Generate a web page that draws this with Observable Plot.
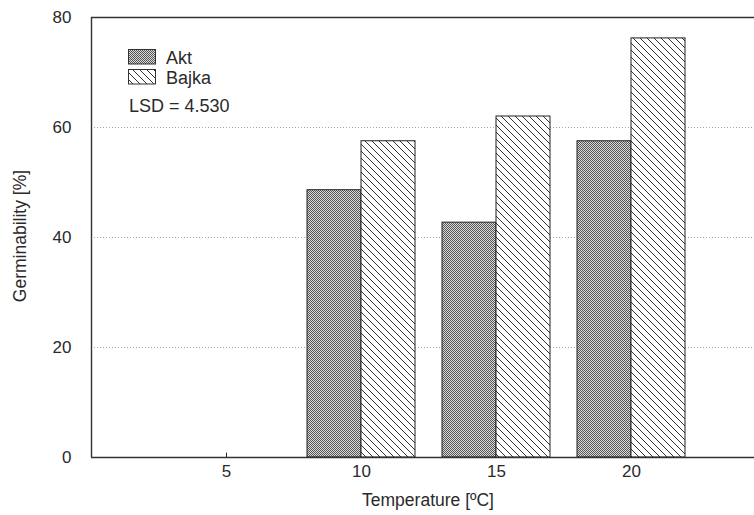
<!DOCTYPE html>
<html>
<head>
<meta charset="utf-8">
<script src="https://cdn.jsdelivr.net/npm/d3@7"></script>
<script src="https://cdn.jsdelivr.net/npm/@observablehq/plot@0.6"></script>
<style>
  html, body { margin: 0; padding: 0; background: #fff; overflow: hidden; }
  #chart svg { display: block; }
</style>
</head>
<body>
<div id="chart"></div>
<script>
// ---- data ----
const temperatures = [10, 15, 20];
const akt = [48.6, 42.7, 57.5];
const bajka = [57.5, 62.0, 76.2];
const xTicks = [5, 10, 15, 20];
const yTicks = [0, 20, 40, 60, 80];
const gridTicks = [20, 40, 60];
const seriesNames = ["Akt", "Bajka"];
const lsdLabel = "LSD = 4.530";
const halfWidth = 2; // each bar spans 2 °C units

const rows = [];
temperatures.forEach((t, i) => {
  rows.push({series: "Akt", t, x1: t - halfWidth, x2: t, v: akt[i]});
  rows.push({series: "Bajka", t, x1: t, x2: t + halfWidth, v: bajka[i]});
});

const font = "'Liberation Sans', Arial, sans-serif";
const ink = "#2a2a2a";

const plot = Plot.plot({
  width: 754,
  height: 515,
  marginLeft: 91,
  marginRight: -12,
  marginTop: 17,
  marginBottom: 58,
  style: {fontFamily: font, fontSize: "17px", color: ink, background: "#fff"},
  x: {domain: [0, 25], ticks: xTicks, tickSize: 0, tickPadding: 7, label: null},
  y: {domain: [0, 80], ticks: yTicks, tickSize: 0, tickPadding: 20, label: null},
  marks: [
    Plot.gridY(gridTicks, {stroke: "#aaa", strokeOpacity: 1, strokeDasharray: "1,2"}),
    Plot.ruleX(xTicks, {y1: 0, y2: 0.8, stroke: ink, strokeWidth: 1}),
    Plot.rect(rows.filter(d => d.series === "Akt"), {x1: "x1", x2: "x2", y1: 0, y2: "v", fill: "url(#patAkt)", stroke: "#222", strokeWidth: 1}),
    Plot.rect(rows.filter(d => d.series === "Bajka"), {x1: "x1", x2: "x2", y1: 0, y2: "v", fill: "url(#patBajka)", stroke: "#222", strokeWidth: 1}),
    Plot.ruleY([0, 80], {stroke: "#333", strokeWidth: 1.4}),
    Plot.ruleX([0, 25], {stroke: "#333", strokeWidth: 1.4}),
    Plot.axisX({ticks: xTicks, tickSize: 0, tickPadding: 7, fontSize: 17, label: null}),
    Plot.axisY({ticks: yTicks, tickSize: 0, tickPadding: 20, fontSize: 17, label: null})
  ]
});

const svg = d3.select(plot);
const defs = svg.insert("defs", ":first-child");
const pa = defs.append("pattern").attr("id", "patAkt").attr("patternUnits", "userSpaceOnUse")
  .attr("width", 2).attr("height", 2);
pa.append("rect").attr("width", 2).attr("height", 2).attr("fill", "#dadada");
pa.append("rect").attr("x", 0).attr("y", 0).attr("width", 1).attr("height", 1).attr("fill", "#555");
pa.append("rect").attr("x", 1).attr("y", 1).attr("width", 1).attr("height", 1).attr("fill", "#555");
const pb = defs.append("pattern").attr("id", "patBajka").attr("patternUnits", "userSpaceOnUse")
  .attr("width", 7).attr("height", 7);
pb.append("rect").attr("width", 7).attr("height", 7).attr("fill", "#fff");
pb.append("path").attr("d", "M0,0L7,7M-1,6L1,8M6,-1L8,1")
  .attr("stroke", "#333").attr("stroke-width", 1).attr("fill", "none");

// axis titles
svg.append("text").attr("x", 428).attr("y", 506).attr("text-anchor", "middle")
  .attr("font-family", font).attr("font-size", 17.5).attr("fill", ink)
  .text("Temperature [ºC]");
svg.append("text").attr("transform", "translate(26,236) rotate(-90)").attr("text-anchor", "middle")
  .attr("font-family", font).attr("font-size", 17.5).attr("fill", ink)
  .text("Germinability [%]");

// legend
const lg = svg.append("g").attr("font-family", font).attr("font-size", 18).attr("fill", ink)
  .attr("text-anchor", "start");
seriesNames.forEach((name, i) => {
  lg.append("rect").attr("x", 128.5).attr("y", 49.5 + i * 20).attr("width", 27).attr("height", 14.5)
    .attr("fill", i === 0 ? "url(#patAkt)" : "url(#patBajka)").attr("stroke", "#333").attr("stroke-width", 1);
  lg.append("text").attr("x", 166).attr("y", 63.5 + i * 20).attr("text-anchor", "start").text(name);
});
lg.append("text").attr("x", 129).attr("y", 112).attr("text-anchor", "start").text(lsdLabel);

document.getElementById("chart").appendChild(plot);
</script>
</body>
</html>
